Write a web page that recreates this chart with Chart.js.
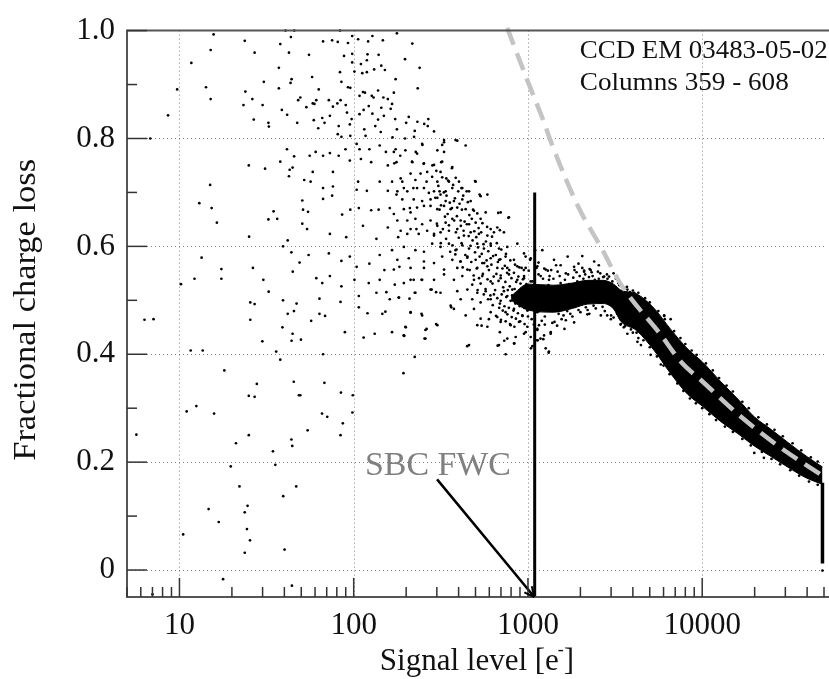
<!DOCTYPE html>
<html>
<head>
<meta charset="utf-8">
<title>Fractional charge loss</title>
<script src="https://cdn.jsdelivr.net/npm/chart.js@4.4.1/dist/chart.umd.min.js"></script>
<style>
  body { margin: 0; background: #fff; }
</style>
</head>
<body>
<canvas id="lossChart" width="829" height="679"></canvas>
<script>
// Charge loss vs signal level, CCD EM 03483-05-02 (columns 359 - 608)

// tick labels
const xTickValues = [10, 100, 1000, 10000];
const xMinorTicks = [5, 6, 7, 8, 9, 20, 30, 40, 50, 60, 70, 80, 90, 200, 300, 400, 500, 600, 700, 800, 900,
  2000, 3000, 4000, 5000, 6000, 7000, 8000, 9000, 20000, 30000, 40000, 50000];
const yTickValues = [0, 0.2, 0.4, 0.6, 0.8, 1.0];
const yMinorTicks = [0.1, 0.3, 0.5, 0.7, 0.9];

// isolated pixels, low signal
const sparseLow = [
  [15.7, 0.993], [23.7, 0.981], [15.1, 0.964], [27, 0.959], [11.7, 0.94], [37.2, 0.931], [9.7, 0.891],
  [14.2, 0.895], [15.1, 0.873], [23.9, 0.887], [30.5, 0.905], [37.2, 0.893], [23.3, 0.862], [26.2, 0.873],
  [30, 0.862], [38.7, 0.853], [41.5, 0.844], [26.7, 0.835], [32.4, 0.829], [32.6, 0.822], [8.6, 0.843],
  [6.8, 0.8], [37.9, 0.975], [42.5, 0.959], [44, 0.91], [43.4, 0.903], [40.6, 1.0], [43.6, 0.988],
  [45.6, 1.0], [48, 0.871], [47.4, 0.829], [41.4, 0.78], [37.9, 0.757], [45.5, 0.767], [42.9, 0.742],
  [44.6, 0.746], [42.5, 0.73], [25, 0.75], [31, 0.744], [15, 0.714], [13, 0.68], [15.3, 0.671],
  [16.4, 0.644], [32.4, 0.65], [34.7, 0.665], [36.4, 0.651], [25.1, 0.618], [41.8, 0.611], [39.3, 0.6],
  [43.9, 0.589], [13.4, 0.579], [17.4, 0.558], [17.4, 0.54], [12.2, 0.54], [10.2, 0.53], [26.4, 0.56],
  [30.3, 0.538], [32.5, 0.516], [44.7, 0.553], [25.5, 0.496], [27, 0.493], [39.3, 0.5], [47, 0.494],
  [25.5, 0.464], [41.8, 0.475], [45.4, 0.48], [39, 0.45], [44.6, 0.438], [44, 0.425], [29.9, 0.424],
  [6.3, 0.464], [7.1, 0.465], [11.6, 0.407], [13.6, 0.407], [35.9, 0.405], [37.9, 0.39], [18.1, 0.37],
  [45.3, 0.349], [27.8, 0.345], [25, 0.323], [27, 0.321], [48.5, 0.324], [11, 0.294], [12.5, 0.304],
  [15.8, 0.29], [5.66, 0.251], [25, 0.25], [21.1, 0.235], [43.9, 0.242], [44.4, 0.23], [34.4, 0.22],
  [35.5, 0.195], [19.7, 0.192], [22.1, 0.155], [46.8, 0.155], [39.4, 0.137], [14.7, 0.113], [24.6, 0.119],
  [23.7, 0.107], [16.8, 0.089], [24.4, 0.076], [25.4, 0.055], [10.5, 0.066], [40.1, 0.038], [23.7, 0.032],
  [17.8, -0.017], [44.2, -0.029], [7.0, -0.045]
];

const sparseMid = [
  [49.8, 0.427], [66.7, 0.4], [49.4, 0.324], [67.9, 0.347], [84.5, 0.329], [98.8, 0.324], [98.3, 0.292],
  [65.8, 0.29], [70.5, 0.284], [86.6, 0.272], [54.4, 0.259], [84, 0.25], [114, 0.431], [195, 0.434],
  [258, 0.429], [224, 0.395], [193, 0.365], [448, 0.415], [670, 0.416], [745, 0.4], [731, 0.425],
  [835, 0.42], [1060, 0.415], [1137, 0.426], [1225, 0.428], [1315, 0.403], [49000, -0.001]
];

// upper part of the spread, 50 - 800 e-
const sparseHigh = [
  [83.4, 1.0], [66.7, 0.98], [75.2, 0.982], [81, 0.979], [92.7, 0.977], [98, 0.99], [106, 0.984],
  [121, 0.98], [128, 0.99], [147, 0.982], [177, 0.995], [217, 0.976], [55.4, 0.955], [88, 0.953],
  [98, 0.957], [98, 0.941], [120, 0.956], [119, 0.945], [139, 0.955], [197, 0.947], [110, 0.938],
  [131, 0.928], [144, 0.935], [151, 0.927], [83.4, 0.923], [101, 0.924], [112, 0.921], [119, 0.923],
  [239, 0.931], [57.7, 0.914], [85, 0.905], [174, 0.91], [92.7, 0.895], [95.6, 0.894], [233, 0.893],
  [63, 0.891], [113, 0.886], [116, 0.885], [138, 0.889], [127, 0.879], [170, 0.885], [108, 0.879],
  [130, 0.876], [148, 0.876], [157, 0.873], [49.4, 0.876], [61, 0.871], [72, 0.871], [84, 0.871],
  [58.2, 0.865], [76, 0.859], [59.5, 0.864], [53.5, 0.858], [80.6, 0.865], [90, 0.862], [122, 0.86],
  [166, 0.864], [114, 0.853], [144, 0.857], [163, 0.855], [59, 0.834], [66, 0.838], [73, 0.842],
  [91.5, 0.848], [97.3, 0.836], [108, 0.845], [128, 0.846], [138, 0.835], [149, 0.842], [207, 0.84],
  [173, 0.836], [268, 0.836], [200, 0.829], [232, 0.831], [254, 0.827], [266, 0.823], [68, 0.829],
  [62.6, 0.819], [82, 0.823], [95, 0.826], [115, 0.817], [133, 0.823], [143, 0.812], [177, 0.817],
  [224, 0.814], [289, 0.813], [81, 0.808], [85, 0.803], [95.6, 0.805], [117, 0.805], [167, 0.802],
  [197, 0.8], [222, 0.803], [330, 0.797], [384, 0.797], [55.9, 0.768], [60.5, 0.775], [66.7, 0.768],
  [73, 0.773], [82, 0.768], [89.7, 0.78], [104, 0.79], [108, 0.78], [123, 0.78], [141, 0.787],
  [153, 0.775], [174, 0.78], [185, 0.768], [227, 0.775], [248, 0.788], [322, 0.788], [58.2, 0.738],
  [76, 0.738], [95, 0.759], [110, 0.762], [126, 0.756], [157, 0.75], [176, 0.756], [217, 0.756],
  [252, 0.753], [283, 0.75], [318, 0.756], [366, 0.745], [52, 0.723], [56.6, 0.72], [66.7, 0.708],
  [76, 0.711], [106, 0.72], [141, 0.72], [190, 0.72], [262, 0.72], [340, 0.726], [385, 0.727],
  [497, 0.721], [50.7, 0.685], [66.7, 0.688], [75.2, 0.694], [104, 0.705], [119, 0.703], [157, 0.703],
  [176, 0.696], [220, 0.708], [311, 0.702], [415, 0.708], [445, 0.702], [528, 0.696], [51.2, 0.668],
  [54.7, 0.664], [85.8, 0.659], [95.6, 0.668], [107, 0.671], [126, 0.667], [139, 0.668], [161, 0.671],
  [210, 0.671], [50.7, 0.642], [54, 0.632], [73, 0.623], [90.6, 0.617], [113, 0.638], [135, 0.614],
  [157, 0.635], [180, 0.617], [203, 0.623], [229, 0.632], [675, 0.662], [772, 0.653], [690, 0.63],
  [48.9, 0.57], [55.1, 0.584], [72, 0.587], [85, 0.573], [95, 0.581], [104, 0.562], [123, 0.568],
  [141, 0.584], [150, 0.556], [183, 0.562], [61, 0.541], [66, 0.532], [73, 0.545], [85, 0.526],
  [101, 0.538], [122, 0.532], [141, 0.538], [154, 0.515], [172, 0.529], [212, 0.538], [245, 0.538],
  [63.6, 0.503], [84, 0.497], [107, 0.508], [135, 0.514], [161, 0.502], [181, 0.505], [224, 0.514],
  [209, 0.503], [280, 0.52], [297, 0.515], [57, 0.462], [63.6, 0.475], [68.5, 0.471], [107, 0.487],
  [120, 0.476], [146, 0.475], [152, 0.479], [212, 0.477], [245, 0.475], [363, 0.487], [89, 0.441],
  [132, 0.438], [166, 0.441], [194, 0.435], [199, 0.45], [262, 0.447], [255, 0.429], [297, 0.456],
  [542, 0.453], [597, 0.465], [690, 0.441], [832, 0.42]
];

// the main cloud, 160 - 1400 e-
const cloudPts = [
  [170, 0.775], [198, 0.778], [231, 0.772], [247, 0.79], [302, 0.778], [330, 0.793], [330, 0.775],
  [393, 0.796], [171, 0.754], [216, 0.757], [253, 0.754], [289, 0.751], [322, 0.757], [368, 0.747],
  [439, 0.787], [166, 0.72], [186, 0.726], [194, 0.708], [212, 0.735], [226, 0.723], [242, 0.735],
  [264, 0.738], [282, 0.729], [302, 0.72], [315, 0.738], [352, 0.72], [402, 0.72], [501, 0.72],
  [178, 0.702], [203, 0.702], [231, 0.708], [253, 0.708], [270, 0.699], [289, 0.702], [315, 0.696],
  [337, 0.702], [368, 0.708], [420, 0.708], [459, 0.702], [535, 0.693], [190, 0.687], [221, 0.687],
  [247, 0.684], [276, 0.687], [302, 0.69], [337, 0.684], [376, 0.684], [420, 0.687], [469, 0.684],
  [585, 0.696], [170, 0.66], [194, 0.669], [212, 0.663], [231, 0.672], [253, 0.675], [276, 0.675],
  [302, 0.669], [330, 0.675], [360, 0.669], [393, 0.672], [439, 0.669], [490, 0.666], [572, 0.663],
  [697, 0.663], [778, 0.654], [178, 0.648], [203, 0.648], [226, 0.651], [247, 0.641], [276, 0.648],
  [302, 0.638], [337, 0.644], [368, 0.651], [411, 0.648], [459, 0.641], [501, 0.644], [535, 0.651],
  [611, 0.632], [667, 0.635], [186, 0.629], [212, 0.632], [236, 0.623], [264, 0.629], [289, 0.623],
  [315, 0.626], [352, 0.629], [393, 0.632], [429, 0.62], [469, 0.626], [523, 0.623], [585, 0.62],
  [638, 0.626], [728, 0.626], [166, 0.593], [194, 0.599], [226, 0.593], [253, 0.59], [282, 0.605],
  [315, 0.599], [352, 0.605], [384, 0.593], [420, 0.602], [459, 0.596], [512, 0.605], [559, 0.596],
  [611, 0.605], [682, 0.596], [761, 0.599], [869, 0.605], [178, 0.575], [207, 0.578], [253, 0.572],
  [289, 0.569], [322, 0.581], [368, 0.575], [411, 0.572], [449, 0.581], [501, 0.575], [547, 0.569],
  [611, 0.578], [682, 0.575], [744, 0.581], [831, 0.575], [949, 0.587], [1037, 0.578], [1209, 0.593],
  [170, 0.557], [212, 0.56], [253, 0.56], [330, 0.557], [393, 0.56], [449, 0.557], [512, 0.56],
  [585, 0.563], [667, 0.56], [761, 0.56], [869, 0.563], [970, 0.56], [1132, 0.563], [1264, 0.557],
  [194, 0.532], [221, 0.538], [247, 0.538], [289, 0.538], [330, 0.548], [376, 0.538], [420, 0.545],
  [490, 0.538], [547, 0.545], [611, 0.535], [697, 0.541], [778, 0.548], [869, 0.538], [949, 0.541],
  [1037, 0.535], [1183, 0.545], [1321, 0.538], [182, 0.505], [226, 0.514], [276, 0.52], [315, 0.514],
  [393, 0.517], [449, 0.52], [512, 0.514], [572, 0.517], [638, 0.511], [728, 0.517], [813, 0.52],
  [908, 0.514], [992, 0.52], [1083, 0.511], [1237, 0.517], [360, 0.49], [411, 0.502], [479, 0.502],
  [535, 0.496], [611, 0.502], [697, 0.499], [761, 0.508], [850, 0.496], [928, 0.502], [1014, 0.499],
  [1157, 0.502], [1292, 0.496], [212, 0.478], [247, 0.472], [302, 0.454], [376, 0.484], [439, 0.472],
  [490, 0.484], [535, 0.466], [611, 0.478], [667, 0.469], [744, 0.478], [831, 0.484], [928, 0.472],
  [992, 0.481], [1132, 0.478], [1237, 0.481], [512, 0.454], [585, 0.451], [697, 0.46], [795, 0.454],
  [888, 0.46], [992, 0.451], [1157, 0.454], [198, 0.451], [194, 0.435], [258, 0.445], [459, 0.417],
  [682, 0.417], [761, 0.429], [850, 0.432], [949, 0.438], [1037, 0.432], [1132, 0.445], [1237, 0.435],
  [1351, 0.441], [1264, 0.411]
];

// denser core of the cloud along its diagonal, 290 - 970 e-
const corePts = [
  [298, 0.74], [306, 0.712], [294, 0.69], [311, 0.668], [300, 0.642], [289, 0.62],
  [322, 0.728], [329, 0.7], [317, 0.676], [334, 0.655], [325, 0.632], [316, 0.606],
  [348, 0.722], [341, 0.694], [356, 0.681], [346, 0.66], [352, 0.639], [339, 0.614], [358, 0.59],
  [372, 0.714], [381, 0.689], [366, 0.671], [377, 0.648], [386, 0.626], [369, 0.602], [383, 0.585],
  [398, 0.702], [405, 0.679], [391, 0.656], [412, 0.638], [401, 0.616], [389, 0.594], [409, 0.572],
  [425, 0.694], [418, 0.668], [433, 0.646], [427, 0.629], [416, 0.606], [437, 0.584], [422, 0.561],
  [452, 0.682], [461, 0.658], [446, 0.641], [457, 0.619], [468, 0.601], [449, 0.579], [463, 0.556],
  [484, 0.668], [476, 0.651], [492, 0.628], [481, 0.611], [497, 0.589], [473, 0.571], [488, 0.546], [479, 0.529],
  [512, 0.661], [521, 0.634], [505, 0.617], [517, 0.598], [528, 0.581], [508, 0.559], [524, 0.541], [514, 0.519],
  [548, 0.643], [539, 0.626], [556, 0.604], [543, 0.586], [561, 0.569], [551, 0.549], [535, 0.531], [558, 0.511],
  [583, 0.636], [574, 0.609], [592, 0.591], [579, 0.574], [597, 0.556], [586, 0.539], [571, 0.521], [590, 0.502],
  [622, 0.618], [612, 0.601], [631, 0.582], [617, 0.566], [636, 0.544], [626, 0.531], [609, 0.509], [628, 0.491],
  [663, 0.606], [654, 0.584], [672, 0.571], [659, 0.549], [678, 0.536], [648, 0.519], [667, 0.504], [684, 0.486], [656, 0.471],
  [703, 0.594], [694, 0.576], [714, 0.559], [698, 0.546], [721, 0.524], [707, 0.511], [690, 0.494], [717, 0.481], [700, 0.464],
  [748, 0.586], [737, 0.564], [759, 0.551], [742, 0.534], [766, 0.519], [751, 0.506], [733, 0.489], [762, 0.474], [745, 0.461],
  [792, 0.574], [781, 0.556], [804, 0.541], [786, 0.526], [811, 0.509], [795, 0.499], [777, 0.486], [807, 0.469], [789, 0.456],
  [843, 0.566], [831, 0.551], [856, 0.534], [838, 0.521], [862, 0.506], [847, 0.494], [826, 0.481], [853, 0.466], [836, 0.451],
  [893, 0.561], [881, 0.544], [906, 0.531], [888, 0.514], [913, 0.501], [897, 0.489], [876, 0.476], [902, 0.461],
  [947, 0.556], [936, 0.539], [959, 0.526], [941, 0.509], [966, 0.497], [951, 0.486], [930, 0.471], [956, 0.456]
];

// the hump around 1000 - 4000 e-
const humpPts = [
  [920, 0.56], [950, 0.545], [980, 0.53], [1010, 0.555], [1050, 0.465], [1080, 0.455], [1120, 0.56],
  [1150, 0.548], [1200, 0.462], [1250, 0.47], [1300, 0.555], [1330, 0.545], [1380, 0.458], [1420, 0.46],
  [1480, 0.553], [1520, 0.545], [1560, 0.465], [1600, 0.472], [1650, 0.55], [1700, 0.548], [1750, 0.475],
  [1800, 0.47], [1850, 0.556], [1900, 0.552], [1950, 0.482], [2000, 0.478], [2050, 0.56], [2100, 0.555],
  [2150, 0.487], [2200, 0.482], [2260, 0.558], [2320, 0.552], [2380, 0.49], [2450, 0.485], [2520, 0.553],
  [2600, 0.55], [2680, 0.488], [2760, 0.48], [2840, 0.548], [2920, 0.544], [3000, 0.472], [3100, 0.468],
  [3200, 0.54], [3300, 0.532], [3400, 0.455], [3550, 0.45], [3700, 0.525], [3850, 0.515], [4000, 0.44],
  [4300, 0.43], [1100, 0.593], [1690, 0.581], [2050, 0.582], [2400, 0.572], [970, 0.581], [1030, 0.575],
  [1411, 0.575], [1540, 0.565], [1840, 0.562], [1240, 0.559], [1360, 0.556], [2100, 0.553], [2290, 0.556],
  [2735, 0.544], [3270, 0.541], [3720, 0.52], [4070, 0.514], [4440, 0.49], [5300, 0.472], [6050, 0.472],
  [6610, 0.441], [970, 0.441], [1132, 0.447], [1350, 0.438], [1620, 0.447], [1840, 0.459], [2194, 0.474],
  [2620, 0.472], [2990, 0.465], [3410, 0.456], [3720, 0.438], [4250, 0.423], [1180, 0.429], [1040, 0.411],
  [1320, 0.405], [1130, 0.426], [1470, 0.453],
  [1020, 0.51], [1060, 0.535], [1090, 0.495], [1110, 0.525], [1160, 0.48], [1190, 0.515], [1220, 0.54],
  [1270, 0.5], [1310, 0.528], [1350, 0.485], [1400, 0.54], [1440, 0.498], [1500, 0.475], [1540, 0.532],
  [1590, 0.49], [1630, 0.538], [1680, 0.48], [1720, 0.53], [1780, 0.495], [1820, 0.542], [1870, 0.488],
  [1920, 0.535], [1980, 0.545], [2030, 0.492], [2080, 0.54], [2130, 0.548], [2180, 0.5], [2240, 0.543],
  [2300, 0.497], [2350, 0.545], [2420, 0.538], [2480, 0.5], [2550, 0.54], [2620, 0.498], [2700, 0.543],
  [2780, 0.497], [2860, 0.54], [2950, 0.492], [3050, 0.535], [3150, 0.485], [3250, 0.475], [3350, 0.528],
  [1000, 0.47], [1250, 0.455], [1650, 0.463], [2250, 0.475], [2850, 0.472], [1150, 0.57], [1450, 0.565],
  [1950, 0.568], [2550, 0.565], [3100, 0.55]
];

// stray pixels along the edges of the high signal band
const bandEdgePts = [
  [6590, 0.465], [6050, 0.471], [5790, 0.381], [5060, 0.399], [4450, 0.417], [7560, 0.344],
  [9420, 0.314], [19900, 0.217], [22600, 0.208],
  [3600, 0.522], [4000, 0.518], [4300, 0.514], [4700, 0.504], [5000, 0.496], [5600, 0.48], [6100, 0.465],
  [6900, 0.443], [7500, 0.43], [8000, 0.419], [8700, 0.407], [9300, 0.399], [10500, 0.383], [11500, 0.37],
  [12500, 0.356], [13800, 0.342], [15000, 0.331], [17000, 0.312], [18500, 0.3], [21000, 0.283],
  [23500, 0.27], [26000, 0.26], [29000, 0.248], [33000, 0.235], [37000, 0.222], [42000, 0.209],
  [46000, 0.201],
  [3600, 0.452], [3900, 0.446], [4200, 0.44], [4600, 0.426], [5000, 0.413], [5500, 0.396], [6000, 0.379],
  [6500, 0.363], [7200, 0.346], [7800, 0.332], [8500, 0.318], [9200, 0.309], [10000, 0.3], [11000, 0.289],
  [12000, 0.278], [13500, 0.266], [15000, 0.256], [17000, 0.243], [19000, 0.231], [22000, 0.219],
  [25000, 0.206], [28000, 0.196], [32000, 0.185], [36000, 0.175], [41000, 0.164], [46000, 0.158]
];

// envelope of the dense band (hump and high signal tail)
const bandX    = [800, 1000, 1400, 1800, 2200, 2700, 3100, 3410, 4200, 5300, 6600, 8240, 10000, 12800, 16000, 19900, 25000, 30900, 40000, 49000];
const bandHigh = [0.508, 0.53, 0.528, 0.532, 0.537, 0.537, 0.53, 0.519, 0.512, 0.485, 0.446, 0.41, 0.386, 0.349, 0.317, 0.284, 0.26, 0.237, 0.21, 0.191];
const bandLow  = [0.50, 0.482, 0.478, 0.485, 0.493, 0.494, 0.484, 0.461, 0.444, 0.407, 0.364, 0.326, 0.304, 0.275, 0.253, 0.23, 0.21, 0.191, 0.17, 0.159];

// last column drops to zero
const dropX = [49000, 49000];
const dropY = [0.162, 0.012];

// model curve (grey dashed)
const modelX = [760, 1000, 1210, 1380, 1960, 2620, 3410, 5790, 7550, 10000, 16700, 28400, 50000];
const modelY = [1.005, 0.905, 0.838, 0.787, 0.671, 0.599, 0.53, 0.436, 0.386, 0.35, 0.284, 0.226, 0.173];

// serial register full well capacity marker
const fwcX = [1093, 1093];
const fwcY = [-0.05, 0.70];
const arrowX = [301, 1088];
const arrowY = [0.168, -0.05];

const FONT = '"Liberation Serif", "Times New Roman", serif';

const toXY = (pts) => pts.map(([x, y]) => ({ x, y }));
const zipXY = (xs, ys) => xs.map((x, i) => ({ x, y: ys[i] }));

// draws text squeezed/stretched to a given width (the original uses Computer Modern)
const drawFitted = (ctx, text, x, y, width, size, color, align = 'left') => {
  ctx.save();
  ctx.font = `${size}px ${FONT}`;
  ctx.fillStyle = color;
  ctx.textBaseline = 'alphabetic';
  const w = ctx.measureText(text).width;
  const sx = width / w;
  ctx.translate(align === 'center' ? x - width / 2 : x, y);
  ctx.scale(sx, 1);
  ctx.fillText(text, 0, 0);
  ctx.restore();
};

const axesPlugin = {
  id: 'axesDecor',
  beforeDatasetsDraw(chart) {
    const { ctx, chartArea: a, scales: { x, y } } = chart;
    ctx.save();
    ctx.strokeStyle = '#808080';
    ctx.lineWidth = 1;
    ctx.setLineDash([1, 3]);
    xTickValues.forEach((v) => {
      const px = Math.round(x.getPixelForValue(v)) + 0.5;
      ctx.beginPath();
      ctx.moveTo(px, a.top);
      ctx.lineTo(px, a.bottom);
      ctx.stroke();
    });
    yTickValues.slice(0, -1).forEach((v) => {
      const py = Math.round(y.getPixelForValue(v)) + 0.5;
      ctx.beginPath();
      ctx.moveTo(a.left, py);
      ctx.lineTo(a.right, py);
      ctx.stroke();
    });
    ctx.restore();
  },
  afterDatasetsDraw(chart) {
    const { ctx, chartArea: a, scales: { x, y }, width } = chart;
    ctx.save();

    // spines (left, top, bottom)
    ctx.strokeStyle = '#555';
    ctx.lineWidth = 2;
    ctx.beginPath();
    ctx.moveTo(width, a.top);
    ctx.lineTo(a.left, a.top);
    ctx.lineTo(a.left, a.bottom);
    ctx.lineTo(width, a.bottom);
    ctx.stroke();

    // inward ticks
    ctx.strokeStyle = '#333';
    ctx.lineWidth = 1.5;
    const tick = (x0, y0, x1, y1) => {
      ctx.beginPath();
      ctx.moveTo(x0, y0);
      ctx.lineTo(x1, y1);
      ctx.stroke();
    };
    xTickValues.forEach((v) => {
      const px = x.getPixelForValue(v);
      tick(px, a.bottom, px, a.bottom - 19);
    });
    xMinorTicks.forEach((v) => {
      const px = x.getPixelForValue(v);
      tick(px, a.bottom, px, a.bottom - 10);
    });
    yTickValues.forEach((v) => {
      const py = y.getPixelForValue(v);
      tick(a.left, py, a.left + 20, py);
    });
    yMinorTicks.forEach((v) => {
      const py = y.getPixelForValue(v);
      tick(a.left, py, a.left + 10, py);
    });

    // arrow head at the end of the FWC pointer
    const sx = x.getPixelForValue(arrowX[0]);
    const sy = y.getPixelForValue(arrowY[0]);
    const ex = x.getPixelForValue(arrowX[1]);
    const ey = y.getPixelForValue(arrowY[1]);
    const ang = Math.atan2(ey - sy, ex - sx);
    ctx.strokeStyle = '#000';
    ctx.lineWidth = 2;
    [0.45, -0.45].forEach((d) => {
      tick(ex, ey, ex - 11 * Math.cos(ang + d), ey - 11 * Math.sin(ang + d));
    });

    // labels inside the plot
    drawFitted(ctx, 'CCD EM 03483-05-02', x.getPixelForValue(1983), y.getPixelForValue(0.95), 248, 26, '#111');
    drawFitted(ctx, 'Columns 359 - 608', x.getPixelForValue(1983), y.getPixelForValue(0.89), 209, 26, '#111');
    drawFitted(ctx, 'SBC FWC', x.getPixelForValue(116), y.getPixelForValue(0.176), 146, 34, '#808080');

    // axis titles
    const cx = (a.left + a.right) / 2;
    ctx.font = `31px ${FONT}`;
    ctx.fillStyle = '#111';
    const main = 'Signal level [e';
    const wMain = ctx.measureText(main).width;
    const wBr = ctx.measureText(']').width;
    const left = cx - (wMain + 6 + wBr) / 2 + 2;
    ctx.fillText(main, left, 670);
    ctx.font = `18px ${FONT}`;
    ctx.fillText('-', left + wMain - 1, 655);
    ctx.font = `31px ${FONT}`;
    ctx.fillText(']', left + wMain + 5, 670);

    ctx.save();
    ctx.translate(35, (a.top + a.bottom) / 2 - 4);
    ctx.rotate(-Math.PI / 2);
    drawFitted(ctx, 'Fractional charge loss', 0, 0, 302, 31, '#111', 'center');
    ctx.restore();

    ctx.restore();
  }
};

const pointStyle = {
  type: 'scatter',
  showLine: false,
  pointRadius: 1.35,
  pointHoverRadius: 1.35,
  pointBorderWidth: 0,
  backgroundColor: '#000',
  borderColor: '#000',
  order: 3
};

const edgeLine = {
  showLine: true,
  borderColor: '#000',
  borderWidth: 1,
  pointRadius: 0,
  cubicInterpolationMode: 'monotone',
  order: 4
};

const lossChart = new Chart(document.getElementById('lossChart'), {
  type: 'scatter',
  data: {
    datasets: [
      {
        label: 'model',
        data: zipXY(modelX, modelY),
        showLine: true,
        borderColor: '#c4c4c4',
        borderWidth: 4.5,
        borderDash: [18, 9],
        pointRadius: 0,
        cubicInterpolationMode: 'monotone',
        clip: { left: 0, top: 4, right: 6, bottom: 0 },
        order: 0
      },
      {
        label: 'fwc',
        data: zipXY(fwcX, fwcY),
        showLine: true,
        borderColor: '#000',
        borderWidth: 3,
        pointRadius: 0,
        order: 1
      },
      {
        label: 'arrow',
        data: zipXY(arrowX, arrowY),
        showLine: true,
        borderColor: '#000',
        borderWidth: 2.5,
        pointRadius: 0,
        order: 1
      },
      {
        label: 'drop',
        data: zipXY(dropX, dropY),
        showLine: true,
        borderColor: '#000',
        borderWidth: 3.5,
        pointRadius: 0,
        clip: 6,
        order: 2
      },
      { ...pointStyle, label: 'sparse', data: toXY([...sparseLow, ...sparseMid, ...sparseHigh]), clip: 4 },
      { ...pointStyle, label: 'cloud', data: toXY([...cloudPts, ...corePts, ...humpPts, ...bandEdgePts]) },
      { ...edgeLine, label: 'bandLow', data: zipXY(bandX, bandLow), fill: false },
      { ...edgeLine, label: 'bandHigh', data: zipXY(bandX, bandHigh), backgroundColor: '#000', fill: 6 }
    ]
  },
  options: {
    responsive: false,
    animation: false,
    events: [],
    layout: { padding: { top: 19, right: 5, left: 0, bottom: 0 } },
    plugins: {
      legend: { display: false },
      tooltip: { enabled: false }
    },
    scales: {
      x: {
        type: 'logarithmic',
        min: 5,
        max: 50000,
        grid: { display: false, drawTicks: false },
        border: { display: false },
        afterBuildTicks: (scale) => {
          scale.ticks = xTickValues.map((v) => ({ value: v }));
        },
        afterFit: (scale) => {
          scale.height = 82;
        },
        ticks: {
          autoSkip: false,
          maxRotation: 0,
          padding: 10,
          color: '#111',
          font: { family: FONT, size: 31 },
          callback: (v) => String(v)
        }
      },
      y: {
        type: 'linear',
        min: -0.05,
        max: 1.0,
        grid: { display: false, drawTicks: false },
        border: { display: false },
        afterBuildTicks: (scale) => {
          scale.ticks = yTickValues.map((v) => ({ value: v }));
        },
        afterFit: (scale) => {
          scale.width = 127;
        },
        ticks: {
          padding: 12,
          color: '#111',
          font: { family: FONT, size: 31 },
          callback: (v) => (v === 0 ? '0' : v.toFixed(1))
        }
      }
    }
  },
  plugins: [axesPlugin]
});
</script>
</body>
</html>
